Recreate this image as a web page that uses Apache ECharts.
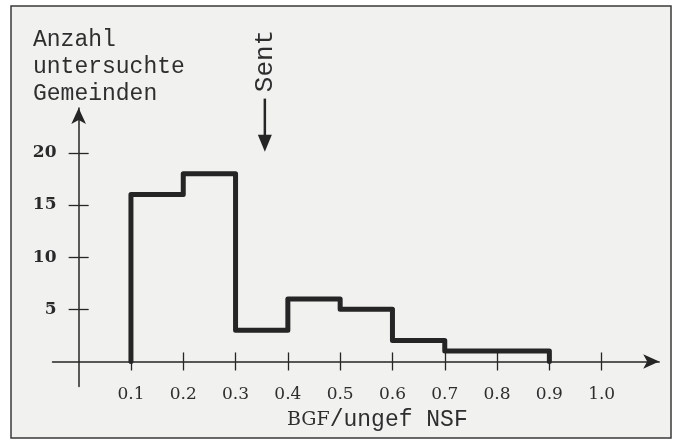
<!DOCTYPE html>
<html>
<head>
<meta charset="utf-8">
<script src="https://cdn.jsdelivr.net/npm/echarts@6/dist/echarts.min.js"></script>
<style>
  html, body { margin: 0; padding: 0; background: #ffffff; }
  #chart { width: 674px; height: 441px; }
</style>
</head>
<body>
<div id="chart"></div>
<script>
// Klassengrenzen und Häufigkeiten (Anzahl untersuchte Gemeinden)
const binEdges = [0.1, 0.2, 0.3, 0.4, 0.5, 0.6, 0.7, 0.8, 0.9];
const counts = [16, 18, 3, 6, 5, 2, 1, 1];
const xTicks = [0.1, 0.2, 0.3, 0.4, 0.5, 0.6, 0.7, 0.8, 0.9, 1.0];
const yTicks = [5, 10, 15, 20];
const sentValue = 0.356;   // Lage des Pfeils "Sent"
const sentArrow = [25.2, 20.1];

const ink = '#252525';

// Treppenlinie des Histogramms in Datenkoordinaten
const stepPoints = [[binEdges[0], 0]];
for (let i = 0; i < counts.length; i++) {
    stepPoints.push([binEdges[i], counts[i]]);
    stepPoints.push([binEdges[i + 1], counts[i]]);
}
stepPoints.push([binEdges[binEdges.length - 1], 0]);

const chart = echarts.init(document.getElementById('chart'));

const xBase = {
    type: 'value', min: -0.05, max: 1.11,
    splitLine: { show: false },
    axisLine: { onZero: true, lineStyle: { color: ink, width: 1.5 } }
};
const yBase = {
    type: 'value', min: -2.4, max: 24.3,
    splitLine: { show: false },
    axisLine: { onZero: true, lineStyle: { color: ink, width: 1.5 } }
};

chart.setOption({
    animation: false,
    grid: { left: 52.5, right: 14.8, top: 108, bottom: 54.5 },
    xAxis: [
        Object.assign({}, xBase, {
            axisLine: { onZero: true, symbol: ['none', 'arrow'], symbolSize: [11, 16], lineStyle: { color: ink, width: 1.5 } },
            axisTick: { customValues: xTicks, length: 9, lineStyle: { color: ink, width: 1.3 } },
            axisLabel: {
                customValues: xTicks, margin: 0,
                fontFamily: 'DejaVu Serif', fontSize: 17, color: '#2e2e2e',
                formatter: v => v.toFixed(1)
            }
        }),
        Object.assign({}, xBase, {
            position: 'bottom',
            axisLine: { show: false, onZero: true },
            axisTick: { customValues: xTicks, inside: true, length: 9, lineStyle: { color: ink, width: 1.3 } },
            axisLabel: { show: false }
        })
    ],
    yAxis: [
        Object.assign({}, yBase, {
            axisLine: { onZero: true, symbol: ['none', 'arrow'], symbolSize: [11, 16], lineStyle: { color: ink, width: 1.5 } },
            axisTick: { customValues: yTicks, length: 10, lineStyle: { color: ink, width: 1.3 } },
            axisLabel: {
                customValues: yTicks, margin: -4,
                fontFamily: 'DejaVu Serif', fontWeight: 'bold', fontSize: 17, color: '#2a2a2a'
            }
        }),
        Object.assign({}, yBase, {
            position: 'left',
            axisLine: { show: false, onZero: true },
            axisTick: { customValues: yTicks, inside: true, length: 10, lineStyle: { color: ink, width: 1.3 } },
            axisLabel: { show: false }
        })
    ],
    series: [{
        type: 'line',
        data: stepPoints,
        showSymbol: false,
        lineStyle: { color: ink, width: 5, join: 'round', cap: 'round' }
    }]
});

// Rahmen, Texte und der Pfeil "Sent"
const arrowTop = chart.convertToPixel({ gridIndex: 0 }, [sentValue, sentArrow[0]]);
const arrowTip = chart.convertToPixel({ gridIndex: 0 }, [sentValue, sentArrow[1]]);
const mono = 'Liberation Mono';

chart.setOption({
    graphic: [
        { type: 'rect', z: -10, shape: { x: 11, y: 6, width: 660, height: 432 },
          style: { fill: '#f1f1ef', stroke: '#3a3a3a', lineWidth: 1.5 } },
        { type: 'text', x: 33, y: 40, style: { text: 'Anzahl', font: '23px ' + mono, fill: '#2e2e2e', verticalAlign: 'middle' } },
        { type: 'text', x: 33, y: 67, style: { text: 'untersuchte', font: '23px ' + mono, fill: '#2e2e2e', verticalAlign: 'middle' } },
        { type: 'text', x: 33, y: 94, style: { text: 'Gemeinden', font: '23px ' + mono, fill: '#2e2e2e', verticalAlign: 'middle' } },
        { type: 'text', x: 287, y: 420, style: {
            text: '{a|BGF}{b|/ungef NSF}', fill: '#2e2e2e', verticalAlign: 'middle',
            rich: { a: { fontFamily: 'DejaVu Serif', fontSize: 19 }, b: { fontFamily: mono, fontSize: 23 } }
        } },
        { type: 'text', x: arrowTop[0], y: 61, rotation: Math.PI / 2,
          style: { text: 'Sent', font: '26px ' + mono, fill: '#2e2e2e', align: 'center', verticalAlign: 'middle' } },
        { type: 'line', shape: { x1: arrowTop[0], y1: arrowTop[1], x2: arrowTip[0], y2: arrowTip[1] - 14 },
          style: { stroke: ink, lineWidth: 2.5 } },
        { type: 'polygon', shape: { points: [[arrowTip[0] - 7, arrowTip[1] - 17], [arrowTip[0] + 7, arrowTip[1] - 17], [arrowTip[0], arrowTip[1]]] },
          style: { fill: ink } }
    ]
});
</script>
</body>
</html>
